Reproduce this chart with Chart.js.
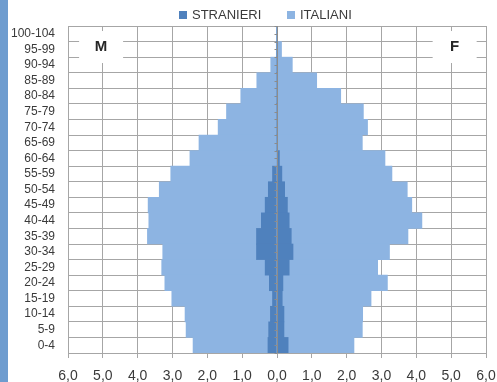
<!DOCTYPE html>
<html>
<head>
<meta charset="utf-8">
<script src="https://cdn.jsdelivr.net/npm/chart.js@4/dist/chart.umd.min.js"></script>
<style>
  html, body { margin: 0; padding: 0; background: #fff; }
  #wrap { width: 497px; height: 382px; }
</style>
</head>
<body>
<div id="wrap"><canvas id="pyramid" width="497" height="382"></canvas></div>
<script>
// age classes, top to bottom
const ageClasses = ["100-104", "95-99", "90-94", "85-89", "80-84", "75-79", "70-74", "65-69",
  "60-64", "55-59", "50-54", "45-49", "40-44", "35-39", "30-34", "25-29", "20-24",
  "15-19", "10-14", "5-9", "0-4"];

// percentages (males on the left)
const maleStranieri = [0, 0, 0, 0, 0, 0, 0, 0, 0, 0.13, 0.25, 0.34, 0.45, 0.59, 0.59, 0.34, 0.22, 0.13, 0.19, 0.24, 0.26];
const maleItaliani = [0, 0.02, 0.18, 0.58, 1.04, 1.45, 1.69, 2.24, 2.50, 2.92, 3.13, 3.36, 3.23, 3.13, 2.69, 2.97, 3.00, 2.89, 2.45, 2.37, 2.15];
const femaleStranieri = [0, 0, 0, 0, 0, 0, 0, 0, 0.07, 0.14, 0.22, 0.30, 0.35, 0.41, 0.46, 0.35, 0.17, 0.15, 0.20, 0.20, 0.32];
const femaleItaliani = [0, 0.13, 0.44, 1.14, 1.83, 2.48, 2.60, 2.45, 3.03, 3.16, 3.52, 3.57, 3.81, 3.35, 2.77, 2.54, 3.00, 2.55, 2.26, 2.25, 1.89];

const xTicks = [-6, -5, -4, -3, -2, -1, 0, 1, 2, 3, 4, 5, 6];

const darkBlue = "rgb(79,129,189)";
const lightBlue = "rgb(141,180,226)";
const gridGray = "#a6a6a6";
const textGray = "#3a3a3a";
const fontName = "'Liberation Sans', Arial, sans-serif";

const pyramidExtras = {
  id: "pyramidExtras",
  beforeDraw(chart) {
    const ctx = chart.ctx;
    ctx.save();
    ctx.fillStyle = "#fff";
    ctx.fillRect(0, 0, chart.width, chart.height);
    // blue strip on the left edge
    ctx.fillStyle = "#6e9ccf";
    ctx.fillRect(0, 0, 8, chart.height);
    ctx.restore();
  },
  afterDatasetsDraw(chart) {
    const ctx = chart.ctx;
    const x = chart.scales.x;
    const y = chart.scales.y;
    const zero = Math.round(x.getPixelForValue(0)) + 0.5;
    ctx.save();
    // vertical axis at zero, drawn over the bars
    ctx.strokeStyle = "#8c8c8c";
    ctx.lineWidth = 1;
    ctx.beginPath();
    ctx.moveTo(zero, y.top);
    ctx.lineTo(zero, y.bottom);
    const step = (y.bottom - y.top) / ageClasses.length / 2;
    for (let i = 0; i <= ageClasses.length * 2; i++) {
      const yy = Math.round(y.top + i * step) + 0.5;
      ctx.moveTo(zero - 3, yy);
      ctx.lineTo(zero, yy);
    }
    ctx.stroke();

    // M / F labels in white boxes
    const boxes = [["M", -5.05], ["F", 5.1]];
    const cy = y.top + (y.bottom - y.top) / ageClasses.length * 1.35;
    ctx.font = "bold 15px " + fontName;
    ctx.textAlign = "center";
    ctx.textBaseline = "middle";
    boxes.forEach(([t, v]) => {
      const cx = x.getPixelForValue(v);
      ctx.fillStyle = "#fff";
      ctx.fillRect(cx - 22, cy - 16, 44, 32);
      ctx.fillStyle = "#262626";
      ctx.fillText(t, cx, cy);
    });

    // legend
    ctx.font = "13px " + fontName;
    ctx.textAlign = "left";
    const items = [["STRANIERI", darkBlue, 179], ["ITALIANI", lightBlue, 287]];
    items.forEach(([t, c, lx]) => {
      ctx.fillStyle = c;
      ctx.fillRect(lx, 11, 8, 8);
      ctx.fillStyle = textGray;
      ctx.fillText(t, lx + 13, 15.5);
    });
    ctx.restore();
  }
};

new Chart(document.getElementById("pyramid").getContext("2d"), {
  type: "bar",
  data: {
    labels: ageClasses,
    datasets: [
      { label: "STRANIERI", data: maleStranieri.map(v => -v), backgroundColor: darkBlue, stack: "p" },
      { label: "STRANIERI F", data: femaleStranieri, backgroundColor: darkBlue, stack: "p" },
      { label: "ITALIANI", data: maleItaliani.map(v => -v), backgroundColor: lightBlue, stack: "p" },
      { label: "ITALIANI F", data: femaleItaliani, backgroundColor: lightBlue, stack: "p" }
    ]
  },
  options: {
    indexAxis: "y",
    responsive: false,
    animation: false,
    layout: { padding: { top: 26, right: 11, left: 0, bottom: 0 } },
    datasets: { bar: { barPercentage: 1, categoryPercentage: 1, borderWidth: 0 } },
    plugins: { legend: { display: false }, tooltip: { enabled: false } },
    scales: {
      x: {
        stacked: true,
        min: -6,
        max: 6,
        afterBuildTicks: scale => { scale.ticks = xTicks.map(v => ({ value: v })); },
        afterFit: scale => {
          scale.height = 29;
          scale.paddingLeft = 0;
          scale.paddingRight = 0;
        },
        grid: { color: gridGray, tickLength: 5, tickColor: gridGray },
        border: { color: gridGray },
        ticks: {
          padding: 10,
          color: textGray,
          font: { family: fontName, size: 14 },
          callback: v => Math.abs(v).toFixed(1).replace(".", ",")
        }
      },
      y: {
        stacked: true,
        afterFit: scale => { scale.width = 68; },
        grid: { color: gridGray, offset: true, drawTicks: false },
        border: { color: gridGray },
        ticks: {
          padding: 13,
          color: textGray,
          autoSkip: false,
          font: { family: fontName, size: 12 }
        }
      }
    }
  },
  plugins: [pyramidExtras]
});
</script>
</body>
</html>
